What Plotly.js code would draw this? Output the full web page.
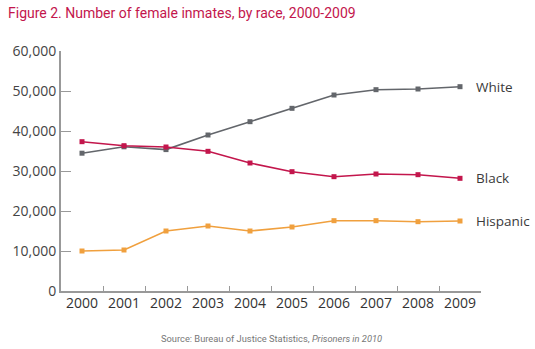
<!DOCTYPE html>
<html>
<head>
<meta charset="utf-8">
<script src="https://cdn.plot.ly/plotly-3.0.1.min.js"></script>
<style>html,body{margin:0;padding:0;background:#fff;}#chart{width:535px;height:349px;}</style>
</head>
<body>
<div id="chart"></div>
<script>
const years = ['2000','2001','2002','2003','2004','2005','2006','2007','2008','2009'];
const white = [34450, 36050, 35350, 39000, 42330, 45670, 49000, 50330, 50500, 51080];
const black = [37330, 36330, 36000, 34920, 32000, 29830, 28580, 29250, 29080, 28170];
const hispanic = [10000, 10250, 15000, 16250, 15000, 16000, 17580, 17580, 17330, 17500];
const seriesNames = ['White', 'Black', 'Hispanic'];
const yTickVals = [0, 10000, 20000, 30000, 40000, 50000, 60000];

const colors = ['#63666b', '#c3164c', '#f0a03e'];
const seriesData = [white, black, hispanic];

const traces = seriesData.map((d, i) => ({
  type: 'scatter', mode: 'lines+markers', x: years, y: d, name: seriesNames[i],
  line: {color: colors[i], width: 1.6},
  marker: {symbol: 'square', size: 5, color: colors[i]},
  hoverinfo: 'skip'
}));

const annotations = seriesData.map((d, i) => ({
  x: years.length - 1, y: d[d.length - 1], xref: 'x', yref: 'y',
  text: seriesNames[i], showarrow: false, xanchor: 'left', yanchor: 'middle',
  xshift: 14, font: {family: 'Open Sans, sans-serif', size: 13.5, color: '#3a3a3a'}
}));
annotations.push({
  xref: 'paper', yref: 'paper', x: 0.5, y: -0.196, xanchor: 'center', yanchor: 'middle',
  text: 'Source: Bureau of Justice Statistics, <i>Prisoners in 2010</i>', showarrow: false,
  font: {family: 'Roboto, sans-serif', size: 9.3, color: '#777'}
});

const layout = {
  width: 535, height: 349,
  margin: {l: 61, r: 54, t: 51, b: 58},
  paper_bgcolor: '#fff', plot_bgcolor: '#fff',
  showlegend: false,
  title: {
    text: 'Figure 2. Number of female inmates, by race, 2000-2009',
    x: 8/535, xanchor: 'left', xref: 'container',
    y: 1 - 13/349, yanchor: 'middle', yref: 'container',
    font: {family: 'Roboto, sans-serif', size: 14, color: '#c3164c'}
  },
  xaxis: {
    type: 'category', range: [-0.5, 9.5],
    showline: true, linecolor: '#999', linewidth: 2,
    ticks: 'inside', ticklen: 5, tickcolor: '#999', tickwidth: 1,
    tickson: 'boundaries', showgrid: false, zeroline: false,
    ticklabelstandoff: -2,
    tickfont: {family: 'Open Sans, sans-serif', size: 14, color: '#333'}
  },
  yaxis: {
    range: [0, 60000], tickvals: yTickVals, tickformat: ',',
    showline: true, linecolor: '#999', linewidth: 2,
    ticks: 'inside', ticklen: 10, tickcolor: '#999', tickwidth: 1,
    showgrid: false, zeroline: false,
    tickfont: {family: 'Open Sans, sans-serif', size: 14, color: '#444'}
  },
  annotations: annotations
};

Plotly.newPlot('chart', traces, layout, {displayModeBar: false, staticPlot: true});
</script>
</body>
</html>
